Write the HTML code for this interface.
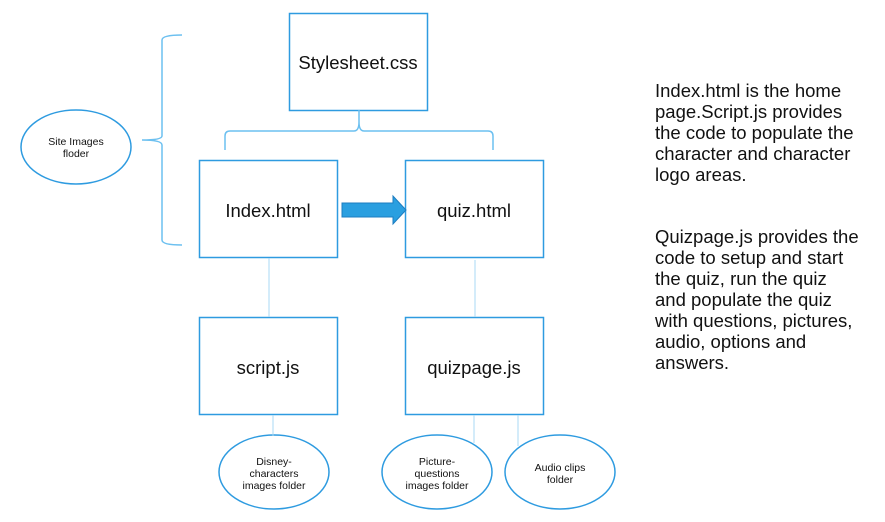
<!DOCTYPE html>
<html><head><meta charset="utf-8"><style>
html,body{margin:0;padding:0;background:#fff;width:885px;height:522px;overflow:hidden}
svg{display:block}
text{font-family:"Liberation Sans",Arial,sans-serif;fill:#111}
</style></head><body>
<svg width="885" height="522" viewBox="0 0 885 522" xmlns="http://www.w3.org/2000/svg">
<g fill="none" stroke="#2e9be0" stroke-width="1.5">
<rect x="289.5" y="13.5" width="138" height="97"/>
<rect x="199.5" y="160.5" width="138" height="97"/>
<rect x="405.5" y="160.5" width="138" height="97"/>
<rect x="199.5" y="317.5" width="138" height="97"/>
<rect x="405.5" y="317.5" width="138" height="97"/>
<ellipse cx="76" cy="147" rx="55" ry="37"/>
<ellipse cx="274" cy="472" rx="55" ry="37"/>
<ellipse cx="437" cy="472" rx="55" ry="37"/>
<ellipse cx="560" cy="472" rx="55" ry="37"/>
</g>
<g fill="none" stroke="#6cc0f0" stroke-width="1.5">
<path d="M182 35 Q162 35 162 40 L162 136 Q162 140 142 140 Q162 140 162 145 L162 240 Q162 245 182 245"/>
<path d="M225 150 L225 136 Q225 131 230 131 L354 131 Q359 131 359 122 L359 110 M359 122 Q359 131 364 131 L488 131 Q493 131 493 136 L493 150"/>
</g>
<g stroke="#a8d8f5" stroke-width="1">
<line x1="269" y1="258" x2="269" y2="317"/>
<line x1="475" y1="260" x2="475" y2="317"/>
<line x1="273" y1="415" x2="273" y2="436"/>
<line x1="474" y1="415" x2="474" y2="443"/>
<line x1="518" y1="415" x2="518" y2="446"/>
</g>
<path d="M342 203 L393 203 L393 196 L406 210 L393 224 L393 217 L342 217 Z" fill="#2a9fe0" stroke="#1c7cc0" stroke-width="1"/>
<g font-size="18.5" text-anchor="middle">
<text x="358" y="69">Stylesheet.css</text>
<text x="268" y="217">Index.html</text>
<text x="474" y="217">quiz.html</text>
<text x="268" y="374">script.js</text>
<text x="474" y="374">quizpage.js</text>
</g>
<g font-size="10.5" text-anchor="middle">
<text x="76" y="145">Site Images</text>
<text x="76" y="157">floder</text>
<text x="274" y="465">Disney-</text>
<text x="274" y="477">characters</text>
<text x="274" y="489">images folder</text>
<text x="437" y="465">Picture-</text>
<text x="437" y="477">questions</text>
<text x="437" y="489">images folder</text>
<text x="560" y="471">Audio clips</text>
<text x="560" y="483">folder</text>
</g>
<g font-size="18.5">
<text x="655" y="97">Index.html is the home</text>
<text x="655" y="118">page.Script.js provides</text>
<text x="655" y="139">the code to populate the</text>
<text x="655" y="160">character and character</text>
<text x="655" y="181">logo areas.</text>
<text x="655" y="243">Quizpage.js provides the</text>
<text x="655" y="264">code to setup and start</text>
<text x="655" y="285">the quiz, run the quiz</text>
<text x="655" y="306">and populate the quiz</text>
<text x="655" y="327">with questions, pictures,</text>
<text x="655" y="348">audio, options and</text>
<text x="655" y="369">answers.</text>
</g>
</svg>
</body></html>
